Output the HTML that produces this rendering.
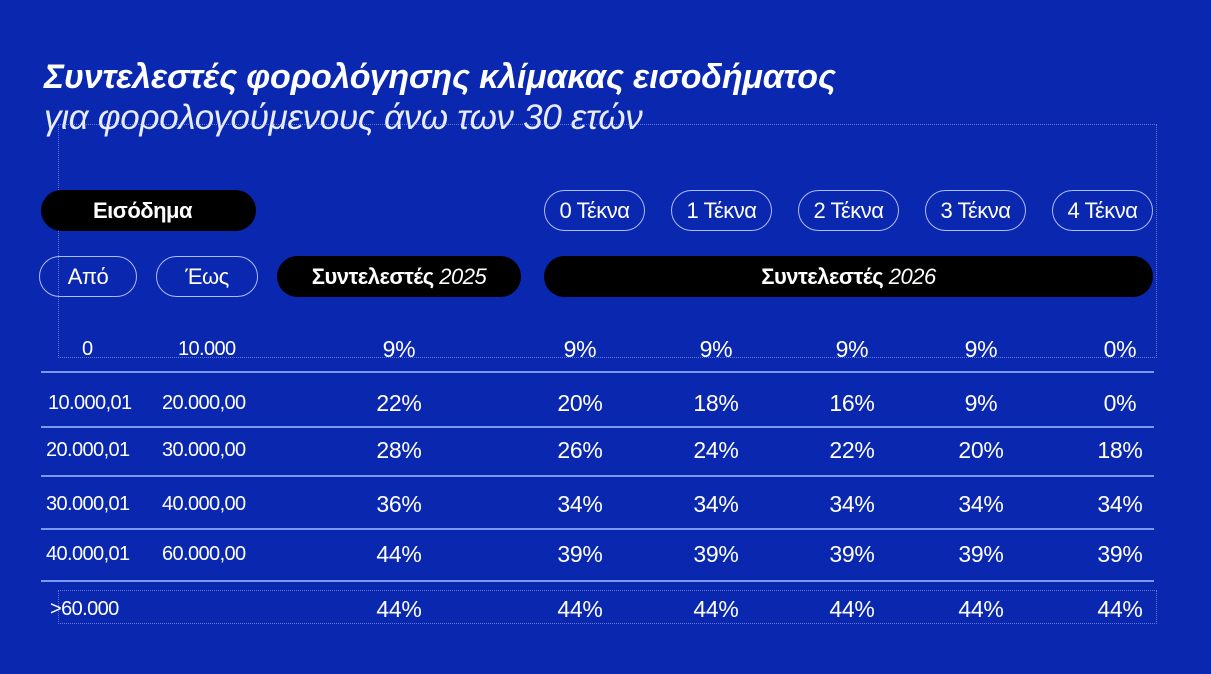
<!DOCTYPE html><html><head><meta charset="utf-8"><style>
body{margin:0;width:1211px;height:674px;background:#0a27b0;position:relative;overflow:hidden;font-family:"Liberation Sans",sans-serif;color:#fff}
.a{position:absolute;white-space:nowrap}
.pill{position:absolute;height:41px;border-radius:21px;display:flex;align-items:center;justify-content:center;font-size:22px;letter-spacing:-0.5px;box-sizing:border-box}
.o{border:1px solid #aebcf5}
.b{background:#000}
.c{position:absolute;width:120px;margin-left:-60px;text-align:center;font-size:23px;letter-spacing:-0.3px}
.l{position:absolute;font-size:20px;letter-spacing:-0.6px}
.ln{position:absolute;left:41px;width:1113px;height:2px;background:#7c97ef}
.dot{position:absolute;border:1px dotted rgba(170,185,240,0.55)}
</style></head><body>
<div class="a" style="left:44px;top:58px;font-size:34px;font-weight:bold;font-style:italic;letter-spacing:-0.2px">Συντελεστές φορολόγησης κλίμακας εισοδήματος</div>
<div class="a" style="left:44px;top:98px;font-size:35px;font-style:italic;font-weight:300;letter-spacing:-0.3px;color:#e8ecff">για φορολογούμενους άνω των 30 ετών</div>
<div class="dot" style="left:58px;top:124px;width:1097px;height:232px"></div>
<div class="dot" style="left:58px;top:590px;width:1097px;height:32px"></div>
<div class="pill b" style="left:41px;top:190px;width:215px;font-weight:bold;justify-content:flex-start;padding-left:52px">Εισόδημα</div>
<div class="pill o" style="left:544px;top:190px;width:101px">0 Τέκνα</div>
<div class="pill o" style="left:671px;top:190px;width:101px">1 Τέκνα</div>
<div class="pill o" style="left:798px;top:190px;width:101px">2 Τέκνα</div>
<div class="pill o" style="left:925px;top:190px;width:101px">3 Τέκνα</div>
<div class="pill o" style="left:1052px;top:190px;width:101px">4 Τέκνα</div>
<div class="pill o" style="left:39px;top:256px;width:98px">Από</div>
<div class="pill o" style="left:156px;top:256px;width:102px">Έως</div>
<div class="pill b" style="left:277px;top:256px;width:244px"><b>Συντελεστές</b>&nbsp;<i>2025</i></div>
<div class="pill b" style="left:544px;top:256px;width:609px"><b>Συντελεστές</b>&nbsp;<i>2026</i></div>
<div class="ln" style="top:371px"></div>
<div class="ln" style="top:426px"></div>
<div class="ln" style="top:475px"></div>
<div class="ln" style="top:528px"></div>
<div class="ln" style="top:580px"></div>
<div id="rows"></div>
<script>
var rows=[[349,"0","10.000",["9%","9%","9%","9%","9%","0%"],82,178],
[403,"10.000,01","20.000,00",["22%","20%","18%","16%","9%","0%"],48,162],
[450,"20.000,01","30.000,00",["28%","26%","24%","22%","20%","18%"],46,162],
[504,"30.000,01","40.000,00",["36%","34%","34%","34%","34%","34%"],46,162],
[554,"40.000,01","60.000,00",["44%","39%","39%","39%","39%","39%"],46,162],
[609,">60.000","",["44%","44%","44%","44%","44%","44%"],50,162]];
var xs=[399,580,716,852,981,1120],h="";
rows.forEach(function(r){var t=r[0]-12;
h+='<div class="l" style="left:'+r[4]+'px;top:'+(t+1)+'px">'+r[1].replace('>','&gt;')+'</div>';
h+='<div class="l" style="left:'+r[5]+'px;top:'+(t+1)+'px">'+r[2]+'</div>';
r[3].forEach(function(v,i){h+='<div class="c" style="left:'+xs[i]+'px;top:'+(t-1)+'px">'+v+'</div>';});});
document.getElementById('rows').innerHTML=h;
</script>
</body></html>
